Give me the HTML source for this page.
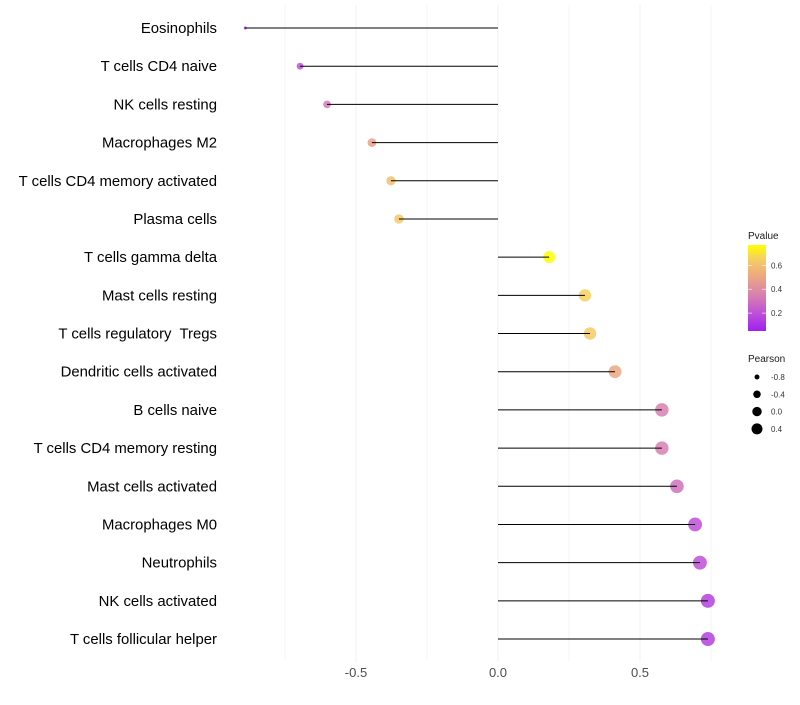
<!DOCTYPE html>
<html><head><meta charset="utf-8"><style>
body{margin:0;background:#fff;font-family:"Liberation Sans",sans-serif}
text{white-space:pre}
</style></head><body>
<svg id="chart" width="800" height="700" xmlns="http://www.w3.org/2000/svg" font-family="Liberation Sans, sans-serif">
<g id="grid"></g><g id="marks"></g><g id="labels"></g><g id="legend"></g>
</svg>
<script>
const categories=["Eosinophils","T cells CD4 naive","NK cells resting","Macrophages M2","T cells CD4 memory activated","Plasma cells","T cells gamma delta","Mast cells resting","T cells regulatory  Tregs","Dendritic cells activated","B cells naive","T cells CD4 memory resting","Mast cells activated","Macrophages M0","Neutrophils","NK cells activated","T cells follicular helper"];
const pearson=[-0.89,-0.697,-0.602,-0.444,-0.377,-0.349,0.18,0.306,0.324,0.412,0.577,0.577,0.63,0.694,0.711,0.739,0.739];
const pvalues=[0.05,0.2,0.33,0.48,0.6,0.63,0.77,0.66,0.64,0.5,0.35,0.35,0.3,0.2,0.2,0.15,0.15];
const xTicks=[-0.5,0,0.5];
const xTickLabels=["-0.5","0.0","0.5"];
const sizeLegend=[-0.8,-0.4,0.0,0.4];
const colorTicks=[0.2,0.4,0.6];

const NS="http://www.w3.org/2000/svg";
const X=v=>498+v*284;
const Y=i=>28+i*38.19;
const R=v=>1.5+5.5*Math.sqrt(Math.max(0,(v+0.89)/1.63));
const RL=v=>Math.sqrt(6+20*(v+0.8));
function lerp(a,b,t){return a.map((x,i)=>Math.round(x+(b[i]-x)*t));}
const stops=[[0.05,[160,32,240]],[0.2,[190,80,215]],[0.35,[216,128,176]],[0.5,[236,166,130]],[0.65,[245,205,100]],[0.77,[255,255,0]]];
function col(p){
  if(p<=stops[0][0])return `rgb(${stops[0][1]})`;
  for(let k=1;k<stops.length;k++){if(p<=stops[k][0]){const t=(p-stops[k-1][0])/(stops[k][0]-stops[k-1][0]);return `rgb(${lerp(stops[k-1][1],stops[k][1],t)})`;}}
  return `rgb(${stops[stops.length-1][1]})`;
}
function mk(tag,at,parent){const e=document.createElementNS(NS,tag);for(const k in at)e.setAttribute(k,at[k]);parent.appendChild(e);return e;}
const grid=document.getElementById('grid'),marks=document.getElementById('marks'),labels=document.getElementById('labels'),legend=document.getElementById('legend');

[-0.75,-0.25,0.25,0.75].forEach(v=>{const l=mk('line',{x1:X(v),x2:X(v),y1:5,y2:662,stroke:'#f5f5f5','stroke-width':1},grid);

});
xTicks.forEach((v,i)=>{const l=mk('line',{x1:X(v),x2:X(v),y1:5,y2:662,stroke:'#f0f0f0','stroke-width':1},grid);


const t=mk('text',{x:X(v),y:677,'text-anchor':'middle','font-size':13,fill:'#4d4d4d'},labels);t.textContent=xTickLabels[i];

});

categories.forEach((c,i)=>{
  const y=Y(i);
  const t=mk('text',{x:217,y:y+5,'text-anchor':'end','font-size':14.9,fill:'#000'},labels);t.textContent=c;
  
  
  const ci=mk('circle',{cx:X(pearson[i]),cy:y,r:R(pearson[i]),fill:col(pvalues[i]),'fill-opacity':0.85},marks);
  
  
  const l=mk('line',{x1:X(0),x2:X(pearson[i]),y1:y,y2:y,stroke:'#000','stroke-width':1},marks);
  
  
});

let t=mk('text',{x:748,y:239,'font-size':10,fill:'#1a1a1a'},legend);t.textContent='Pvalue';


const defs=mk('defs',{},legend);const g=mk('linearGradient',{id:'pg',x1:0,y1:1,x2:0,y2:0},defs);
const cbTop=245,cbBot=331,pmin=0.05,pmax=0.77;
for(let k=0;k<=20;k++){const p=pmin+(pmax-pmin)*k/20;mk('stop',{offset:k/20,'stop-color':col(p)},g);}
const bar=mk('rect',{x:748,y:cbTop,width:18,height:cbBot-cbTop,fill:'url(#pg)'},legend);


colorTicks.forEach(v=>{const y=cbBot-(v-pmin)/(pmax-pmin)*(cbBot-cbTop);
mk('line',{x1:748,x2:752,y1:y,y2:y,stroke:'#fff','stroke-width':0.6},legend);
mk('line',{x1:762,x2:766,y1:y,y2:y,stroke:'#fff','stroke-width':0.6},legend);
const tt=mk('text',{x:771,y:y+3,'font-size':8,fill:'#333'},legend);tt.textContent=v.toFixed(1);

});
t=mk('text',{x:748,y:362,'font-size':10,fill:'#1a1a1a'},legend);t.textContent='Pearson';


sizeLegend.forEach((v,i)=>{const y=377+i*17.3;
const c=mk('circle',{cx:757,cy:y,r:RL(v),fill:'#000'},legend);


const tt=mk('text',{x:771,y:y+3,'font-size':8,fill:'#333'},legend);tt.textContent=v.toFixed(1);

});
</script>
</body></html>
